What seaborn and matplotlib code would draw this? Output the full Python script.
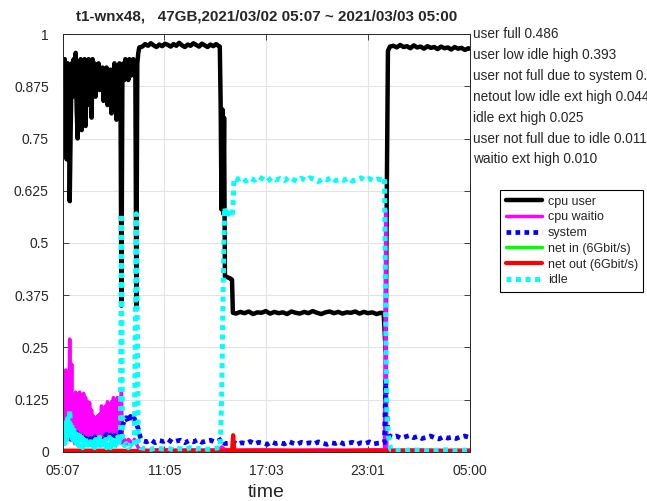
"""cpu / net / idle timeline for one node, 2021/03/02 05:07 ~ 2021/03/03 05:00."""
import matplotlib
matplotlib.use("Agg")
import matplotlib.pyplot as plt
import matplotlib.transforms as mtransforms
import seaborn as sns

TITLE = "t1-wnx48,   47GB,2021/03/02 05:07 ~ 2021/03/03 05:00"

# time axis: minutes after 05:07
xtick_pos = [0, 358, 716, 1074, 1433]
xtick_labels = ["05:07", "11:05", "17:03", "23:01", "05:00"]
ytick_pos = [0, 0.125, 0.25, 0.375, 0.5, 0.625, 0.75, 0.875, 1]
ytick_labels = ["0", "0.125", "0.25", "0.375", "0.5", "0.625", "0.75", "0.875", "1"]

# category shares written to the right of the axes
note_labels = ["user full 0.486", "user low idle high 0.393",
               "user not full due to system 0.031", "netout low idle ext high 0.044",
               "idle ext high 0.025", "user not full due to idle 0.011",
               "waitio ext high 0.010"]
note_y = [1, 0.95, 0.9, 0.85, 0.8, 0.75, 0.7]

user_t = [0, 3.5, 7, 10.5, 14, 17.5, 21, 24.5, 28, 31.5,
          35, 38.5, 42, 45.5, 49, 52.5, 56, 59.5, 63, 66.5,
          70, 73.5, 77, 80.5, 84, 87.5, 91, 94.5, 98, 101.5,
          105, 108.5, 112, 115.5, 119, 122.5, 126, 129.5, 133, 136.5,
          140, 143.5, 147, 150.5, 154, 157.5, 161, 164.5, 168, 171.5,
          175, 178.5, 182, 185.5, 189, 192.5, 196, 199.5, 203, 206.5,
          210, 213.5, 217, 220.5, 224, 227.5, 231, 234.5, 238, 241.5,
          245, 248.5, 252, 255.5, 259, 262.5, 266, 269.5,
          280, 290, 300, 310, 320, 330, 340, 350, 360, 370,
          380, 390, 400, 410, 420, 430, 440, 450, 460, 470,
          480, 490, 500, 510, 520, 530, 540, 548,
          553, 556, 559, 562, 565, 568, 571, 580, 590, 596, 599,
          610, 625, 640, 655, 670, 685, 700, 715, 730, 745,
          760, 775, 790, 805, 820, 835, 850, 865, 880, 895,
          910, 925, 940, 955, 970, 985, 1000, 1015, 1030, 1045,
          1060, 1075, 1090, 1105, 1120,
          1130, 1137, 1141, 1145, 1152,
          1164, 1176, 1188, 1200, 1212, 1224, 1236, 1248, 1260, 1272,
          1284, 1296, 1308, 1320, 1332, 1344, 1356, 1368, 1380, 1392,
          1404, 1416, 1428, 1433]
user_v = [0.92, 0.89, 0.94, 0.90, 0.70, 0.93, 0.88, 0.60, 0.78, 0.93,
          0.85, 0.94, 0.88, 0.955, 0.82, 0.75, 0.93, 0.86, 0.94, 0.77,
          0.92, 0.88, 0.94, 0.78, 0.93, 0.85, 0.94, 0.83, 0.92, 0.80,
          0.94, 0.86, 0.93, 0.85, 0.92, 0.87, 0.93, 0.866, 0.91, 0.88,
          0.92, 0.84, 0.91, 0.87, 0.92, 0.83, 0.90, 0.86, 0.915, 0.81,
          0.90, 0.86, 0.93, 0.84, 0.795, 0.92, 0.81, 0.93, 0.90, 0.35,
          0.90, 0.93, 0.89, 0.94, 0.90, 0.93, 0.89, 0.94, 0.90, 0.93,
          0.91, 0.94, 0.90, 0.93, 0.35, 0.93, 0.955, 0.968,
          0.970, 0.976, 0.972, 0.978, 0.973, 0.969, 0.975, 0.971, 0.977, 0.974,
          0.970, 0.976, 0.972, 0.979, 0.973, 0.969, 0.975, 0.972, 0.978, 0.974,
          0.970, 0.977, 0.973, 0.969, 0.975, 0.971, 0.976, 0.972,
          0.97, 0.83, 0.58, 0.82, 0.57, 0.80, 0.42, 0.418, 0.415, 0.412, 0.333,
          0.331, 0.335, 0.332, 0.336, 0.330, 0.334, 0.333, 0.337, 0.331, 0.335,
          0.332, 0.334, 0.330, 0.336, 0.333, 0.331, 0.335, 0.332, 0.337, 0.333,
          0.330, 0.334, 0.336, 0.332, 0.335, 0.331, 0.334, 0.333, 0.336, 0.331,
          0.335, 0.332, 0.334, 0.330, 0.333,
          0.332, 0.24, 0.62, 0.96, 0.97,
          0.972, 0.968, 0.974, 0.969, 0.971, 0.966, 0.973, 0.968, 0.970, 0.965,
          0.971, 0.967, 0.969, 0.964, 0.970, 0.966, 0.968, 0.963, 0.969, 0.965,
          0.967, 0.962, 0.966, 0.965]

waitio_t = [0, 3.5, 7, 10.5, 14, 17.5, 21, 24.5, 28, 31.5,
            35, 38.5, 42, 45.5, 49, 52.5, 56, 59.5, 63, 66.5,
            70, 73.5, 77, 80.5, 84, 87.5, 91, 94.5, 98, 101.5,
            105, 108.5, 112, 115.5, 119, 122.5, 126, 129.5, 133, 136.5,
            140, 143.5, 147, 150.5, 154, 157.5, 161, 164.5, 168, 171.5,
            175, 178.5, 182, 185.5, 189, 192.5, 196, 199.5, 203, 206.5,
            210, 217, 224, 231, 238, 245, 252, 259, 266, 275,
            300, 350, 400, 450, 500, 550, 560, 570, 600, 700,
            800, 900, 1000, 1100, 1133, 1137, 1141, 1160, 1250, 1350, 1433]
waitio_v = [0.06, 0.19, 0.05, 0.196, 0.04, 0.12, 0.03, 0.27, 0.05, 0.21,
            0.03, 0.06, 0.02, 0.143, 0.04, 0.13, 0.03, 0.143, 0.04, 0.13,
            0.03, 0.14, 0.04, 0.13, 0.03, 0.12, 0.04, 0.118, 0.03, 0.10,
            0.025, 0.086, 0.03, 0.08, 0.05, 0.086, 0.035, 0.09, 0.05, 0.11,
            0.035, 0.10, 0.05, 0.11, 0.035, 0.12, 0.05, 0.11, 0.04, 0.12,
            0.05, 0.13, 0.04, 0.125, 0.05, 0.13, 0.04, 0.12, 0.05, 0.145,
            0.02, 0.03, 0.02, 0.03, 0.025, 0.02, 0.03, 0.02, 0.01, 0.005,
            0.004, 0.006, 0.004, 0.005, 0.004, 0.005, 0.012, 0.006, 0.004, 0.005,
            0.004, 0.005, 0.004, 0.005, 0.005, 0.58, 0.01, 0.004, 0.005, 0.004, 0.004]

system_t = [0, 7, 14, 21, 28, 35, 42, 49, 56, 63,
            70, 77, 84, 91, 98, 105, 112, 119, 126, 133,
            140, 147, 154, 161, 168, 175, 182, 189, 196, 203,
            210, 217, 224, 231, 238, 245, 252, 259, 266, 273, 280,
            295, 310, 325, 340, 355, 370, 385, 400, 415, 430,
            445, 460, 475, 490, 505, 520, 535, 550, 560, 570,
            585, 600, 615, 630, 645, 660, 675, 690, 705, 720,
            735, 750, 765, 780, 795, 810, 825, 840, 855, 870,
            885, 900, 915, 930, 945, 960, 975, 990, 1005, 1020,
            1035, 1050, 1065, 1080, 1095, 1110, 1125,
            1133, 1137, 1141, 1145, 1150,
            1160, 1175, 1190, 1205, 1220, 1235, 1250, 1265, 1280, 1295,
            1310, 1325, 1340, 1355, 1370, 1385, 1400, 1415, 1430]
system_v = [0.04, 0.05, 0.035, 0.045, 0.03, 0.042, 0.035, 0.046, 0.03, 0.04,
            0.034, 0.028, 0.04, 0.035, 0.03, 0.041, 0.034, 0.04, 0.033, 0.03,
            0.04, 0.035, 0.042, 0.034, 0.04, 0.03, 0.04, 0.036, 0.041, 0.045,
            0.062, 0.075, 0.082, 0.07, 0.085, 0.076, 0.08, 0.068, 0.055, 0.035, 0.027,
            0.024, 0.029, 0.022, 0.027, 0.025, 0.030, 0.023, 0.026, 0.028, 0.022,
            0.027, 0.024, 0.029, 0.023, 0.026, 0.028, 0.024, 0.027, 0.032, 0.02,
            0.021, 0.024, 0.018, 0.022, 0.02, 0.025, 0.019, 0.023, 0.021, 0.018,
            0.024, 0.02, 0.022, 0.019, 0.025, 0.021, 0.018, 0.023, 0.02, 0.022,
            0.019, 0.024, 0.021, 0.018, 0.022, 0.02, 0.024, 0.019, 0.021, 0.023,
            0.018, 0.022, 0.02, 0.024, 0.019, 0.021, 0.022,
            0.022, 0.17, 0.09, 0.05, 0.038,
            0.035, 0.038, 0.033, 0.036, 0.039, 0.034, 0.037, 0.032, 0.035, 0.038,
            0.034, 0.031, 0.036, 0.033, 0.035, 0.032, 0.036, 0.038, 0.035]

netin_t = [0, 400, 800, 1200, 1433]
netin_v = [0.001, 0.001, 0.001, 0.001, 0.001]

netout_t = [0, 150, 300, 450, 596, 600, 604, 750, 900, 1050, 1200, 1350, 1433]
netout_v = [0.003, 0.003, 0.002, 0.003, 0.003, 0.04, 0.003, 0.003, 0.002, 0.003,
            0.003, 0.002, 0.003]

idle_t = [0, 3.5, 7, 10.5, 14, 17.5, 21, 24.5, 28, 31.5,
          35, 38.5, 42, 45.5, 49, 52.5, 56, 59.5, 63, 66.5,
          70, 73.5, 77, 80.5, 84, 87.5, 91, 94.5, 98, 101.5,
          105, 108.5, 112, 115.5, 119, 122.5, 126, 129.5, 133, 136.5,
          140, 143.5, 147, 150.5, 154, 157.5, 161, 164.5, 168, 171.5,
          175, 178.5, 182, 185.5, 189, 192.5, 196, 199.5, 203, 206.5,
          210, 217, 224, 231, 238, 245, 252, 259, 266, 273,
          290, 310, 330, 350, 370, 390, 410, 430, 450, 470,
          490, 510, 530, 550,
          555, 560, 565, 570, 575, 583, 590, 597, 600, 603,
          615, 630, 645, 660, 675, 690, 705, 720, 735, 750,
          765, 780, 795, 810, 825, 840, 855, 870, 885, 900,
          915, 930, 945, 960, 975, 990, 1005, 1020, 1035, 1050,
          1065, 1080, 1095, 1110, 1125,
          1133, 1137, 1141, 1145, 1149, 1155,
          1170, 1200, 1230, 1260, 1290, 1320, 1350, 1380, 1410, 1433]
idle_v = [0.03, 0.06, 0.02, 0.07, 0.03, 0.08, 0.04, 0.10, 0.05, 0.07,
          0.03, 0.06, 0.02, 0.05, 0.02, 0.04, 0.015, 0.045, 0.02, 0.035,
          0.01, 0.03, 0.015, 0.035, 0.01, 0.03, 0.015, 0.025, 0.01, 0.03,
          0.015, 0.025, 0.01, 0.03, 0.015, 0.025, 0.01, 0.035, 0.015, 0.03,
          0.01, 0.025, 0.015, 0.03, 0.01, 0.025, 0.015, 0.035, 0.01, 0.03,
          0.015, 0.025, 0.01, 0.03, 0.02, 0.035, 0.015, 0.03, 0.025, 0.57,
          0.03, 0.015, 0.02, 0.01, 0.015, 0.01, 0.015, 0.57, 0.02, 0.01,
          0.008, 0.006, 0.01, 0.007, 0.009, 0.005, 0.008, 0.006, 0.01, 0.007,
          0.009, 0.006, 0.008, 0.01,
          0.01, 0.15, 0.40, 0.585, 0.565, 0.572, 0.562, 0.57, 0.60, 0.655,
          0.652, 0.657, 0.648, 0.655, 0.650, 0.658, 0.653, 0.647, 0.656, 0.651,
          0.654, 0.649, 0.657, 0.652, 0.648, 0.655, 0.650, 0.656, 0.653, 0.647,
          0.654, 0.651, 0.657, 0.649, 0.653, 0.650, 0.655, 0.648, 0.652, 0.656,
          0.650, 0.654, 0.649, 0.653, 0.651,
          0.655, 0.33, 0.09, 0.05, 0.025, 0.006,
          0.004, 0.003, 0.005, 0.004, 0.003, 0.004, 0.005, 0.003, 0.004, 0.004]

DOTS = (0, (1, 0.9))


def main():
    sns.set_theme(style="whitegrid")
    plt.rcParams["font.family"] = ["Liberation Sans", "DejaVu Sans"]

    fig, ax = plt.subplots(figsize=(6.47, 5.01), dpi=100)
    fig.subplots_adjust(left=0.097, right=0.726, bottom=0.098, top=0.932)

    kw = dict(ax=ax, errorbar=None)
    sns.lineplot(x=user_t, y=user_v, color="black", linewidth=3.2, label="cpu user", **kw)
    sns.lineplot(x=waitio_t, y=waitio_v, color="#ff00ff", linewidth=2.5, label="cpu waitio", **kw)
    sns.lineplot(x=system_t, y=system_v, color="#0000ff", linewidth=3.4, linestyle=DOTS,
                 label="system", **kw)
    sns.lineplot(x=netin_t, y=netin_v, color="#00ff00", linewidth=2.5, label="net in (6Gbit/s)", **kw)
    sns.lineplot(x=netout_t, y=netout_v, color="#ff0000", linewidth=3, label="net out (6Gbit/s)", **kw)
    sns.lineplot(x=idle_t, y=idle_v, color="#00ffff", linewidth=3.6, linestyle=DOTS,
                 label="idle", **kw)

    ax.set_xlim(0, 1433); ax.set_ylim(0, 1)
    ax.set_xticks(xtick_pos); ax.set_xticklabels(xtick_labels)
    ax.set_yticks(ytick_pos); ax.set_yticklabels(ytick_labels)
    ax.grid(True, color="#e3e3e3", linewidth=0.8)
    ax.tick_params(axis="both", direction="in", length=4, width=0.6, color="#262626",
                   labelsize=10, top=True, right=True, bottom=True, left=True)
    ax.tick_params(axis="x", pad=9)
    ax.tick_params(axis="y", pad=10)
    for s in ax.spines.values():
        s.set_color("#262626"); s.set_linewidth(0.7)
    ax.set_facecolor("white")

    ax.set_xlabel("time", fontsize=14, labelpad=4)
    ax.set_ylabel("")
    fig.text(0.412, 0.968, TITLE, ha="center", va="center", fontsize=10.9, fontweight="bold")

    # notes run off the right edge of the figure, as in the source screenshot
    tr = mtransforms.blended_transform_factory(ax.transAxes, ax.transData)
    for lab, yy in zip(note_labels, note_y):
        ax.text(1.008, yy, lab, transform=tr, ha="left", va="center", fontsize=9.8, clip_on=False)

    leg = ax.legend(loc="upper left", bbox_to_anchor=(0.773, 0.621), bbox_transform=fig.transFigure,
                    fontsize=9, frameon=True, fancybox=False, framealpha=1, edgecolor="black",
                    handlelength=2.9, handletextpad=0.45, labelspacing=0.3, borderpad=0.45,
                    borderaxespad=0)
    leg.get_frame().set_linewidth(0.8)

    fig.savefig("out.png", dpi=100)
    plt.close(fig)


if __name__ == "__main__":
    main()
